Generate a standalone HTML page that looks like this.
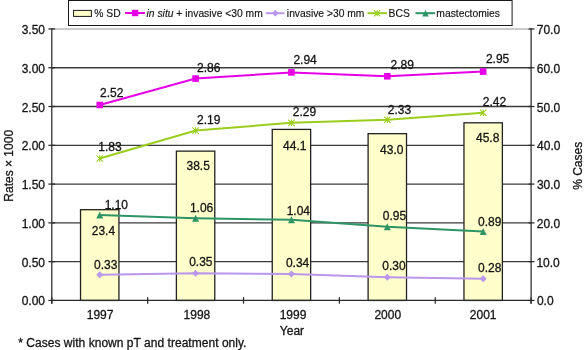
<!DOCTYPE html>
<html><head><meta charset="utf-8"><style>
html,body{margin:0;padding:0;background:#fff;width:584px;height:350px;overflow:hidden}
svg{display:block;will-change:transform}
text{font-family:"Liberation Sans",sans-serif;stroke:#1a1a1a;stroke-width:0.3px}
</style></head><body>
<svg width="584" height="350" viewBox="0 0 584 350">
<rect width="584" height="350" fill="#fff"/>
<line x1="51.8" y1="261.66" x2="531.1" y2="261.66" stroke="#3a3a3a" stroke-width="1.3"/>
<line x1="51.8" y1="222.88" x2="531.1" y2="222.88" stroke="#3a3a3a" stroke-width="1.3"/>
<line x1="51.8" y1="184.09" x2="531.1" y2="184.09" stroke="#3a3a3a" stroke-width="1.3"/>
<line x1="51.8" y1="145.31" x2="531.1" y2="145.31" stroke="#3a3a3a" stroke-width="1.3"/>
<line x1="51.8" y1="106.52" x2="531.1" y2="106.52" stroke="#3a3a3a" stroke-width="1.3"/>
<line x1="51.8" y1="67.74" x2="531.1" y2="67.74" stroke="#3a3a3a" stroke-width="1.3"/>
<line x1="51.8" y1="28.95" x2="531.1" y2="28.95" stroke="#bababa" stroke-width="1.5"/>
<rect x="80.53" y="209.69" width="38.4" height="90.76" fill="#FFFFCC" stroke="#222" stroke-width="1.3"/>
<rect x="176.39" y="151.12" width="38.4" height="149.33" fill="#FFFFCC" stroke="#222" stroke-width="1.3"/>
<rect x="272.25" y="129.41" width="38.4" height="171.04" fill="#FFFFCC" stroke="#222" stroke-width="1.3"/>
<rect x="368.11" y="133.67" width="38.4" height="166.78" fill="#FFFFCC" stroke="#222" stroke-width="1.3"/>
<rect x="463.97" y="122.81" width="38.4" height="177.64" fill="#FFFFCC" stroke="#222" stroke-width="1.3"/>
<line x1="51.8" y1="28.25" x2="51.8" y2="303.65" stroke="#2a2a2a" stroke-width="1.25"/>
<line x1="531.1" y1="28.25" x2="531.1" y2="303.65" stroke="#2a2a2a" stroke-width="1.25"/>
<line x1="51.8" y1="300.45" x2="531.1" y2="300.45" stroke="#2a2a2a" stroke-width="1.25"/>
<line x1="48.4" y1="300.45" x2="55.099999999999994" y2="300.45" stroke="#2a2a2a" stroke-width="1.25"/>
<line x1="528.6" y1="300.45" x2="534.5" y2="300.45" stroke="#2a2a2a" stroke-width="1.25"/>
<line x1="48.4" y1="261.66" x2="55.099999999999994" y2="261.66" stroke="#2a2a2a" stroke-width="1.25"/>
<line x1="528.6" y1="261.66" x2="534.5" y2="261.66" stroke="#2a2a2a" stroke-width="1.25"/>
<line x1="48.4" y1="222.88" x2="55.099999999999994" y2="222.88" stroke="#2a2a2a" stroke-width="1.25"/>
<line x1="528.6" y1="222.88" x2="534.5" y2="222.88" stroke="#2a2a2a" stroke-width="1.25"/>
<line x1="48.4" y1="184.09" x2="55.099999999999994" y2="184.09" stroke="#2a2a2a" stroke-width="1.25"/>
<line x1="528.6" y1="184.09" x2="534.5" y2="184.09" stroke="#2a2a2a" stroke-width="1.25"/>
<line x1="48.4" y1="145.31" x2="55.099999999999994" y2="145.31" stroke="#2a2a2a" stroke-width="1.25"/>
<line x1="528.6" y1="145.31" x2="534.5" y2="145.31" stroke="#2a2a2a" stroke-width="1.25"/>
<line x1="48.4" y1="106.52" x2="55.099999999999994" y2="106.52" stroke="#2a2a2a" stroke-width="1.25"/>
<line x1="528.6" y1="106.52" x2="534.5" y2="106.52" stroke="#2a2a2a" stroke-width="1.25"/>
<line x1="48.4" y1="67.74" x2="55.099999999999994" y2="67.74" stroke="#2a2a2a" stroke-width="1.25"/>
<line x1="528.6" y1="67.74" x2="534.5" y2="67.74" stroke="#2a2a2a" stroke-width="1.25"/>
<line x1="48.4" y1="28.95" x2="55.099999999999994" y2="28.95" stroke="#2a2a2a" stroke-width="1.25"/>
<line x1="528.6" y1="28.95" x2="534.5" y2="28.95" stroke="#2a2a2a" stroke-width="1.25"/>
<line x1="51.80" y1="297.15" x2="51.80" y2="303.65" stroke="#2a2a2a" stroke-width="1.25"/>
<line x1="147.66" y1="297.15" x2="147.66" y2="303.65" stroke="#2a2a2a" stroke-width="1.25"/>
<line x1="243.52" y1="297.15" x2="243.52" y2="303.65" stroke="#2a2a2a" stroke-width="1.25"/>
<line x1="339.38" y1="297.15" x2="339.38" y2="303.65" stroke="#2a2a2a" stroke-width="1.25"/>
<line x1="435.24" y1="297.15" x2="435.24" y2="303.65" stroke="#2a2a2a" stroke-width="1.25"/>
<line x1="531.10" y1="297.15" x2="531.10" y2="303.65" stroke="#2a2a2a" stroke-width="1.25"/>
<polyline points="99.73,215.12 195.59,218.22 291.45,219.78 387.31,226.76 483.17,231.41" fill="none" stroke="#2E9466" stroke-width="2"/>
<polyline points="99.73,274.85 195.59,273.30 291.45,274.08 387.31,277.18 483.17,278.73" fill="none" stroke="#BA96EC" stroke-width="2"/>
<polyline points="99.73,158.49 195.59,130.57 291.45,122.81 387.31,119.71 483.17,112.73" fill="none" stroke="#9ACD1E" stroke-width="2"/>
<polyline points="99.73,104.97 195.59,78.60 291.45,72.39 387.31,76.27 483.17,71.61" fill="none" stroke="#E600E6" stroke-width="2"/>
<path d="M99.73,211.62L103.23,218.62L96.23,218.62Z" fill="#2E9466"/>
<path d="M96.23,274.85L99.73,271.35L103.23,274.85L99.73,278.35Z" fill="#BA96EC"/>
<path d="M96.53,155.29L102.93,161.69M102.93,155.29L96.53,161.69M99.73,155.29L99.73,161.69" stroke="#9ACD1E" stroke-width="1.05" fill="none"/>
<rect x="96.43" y="101.67" width="6.6" height="6.6" fill="#E600E6"/>
<path d="M195.59,214.72L199.09,221.72L192.09,221.72Z" fill="#2E9466"/>
<path d="M192.09,273.30L195.59,269.80L199.09,273.30L195.59,276.80Z" fill="#BA96EC"/>
<path d="M192.39,127.37L198.79,133.77M198.79,127.37L192.39,133.77M195.59,127.37L195.59,133.77" stroke="#9ACD1E" stroke-width="1.05" fill="none"/>
<rect x="192.29" y="75.30" width="6.6" height="6.6" fill="#E600E6"/>
<path d="M291.45,216.28L294.95,223.28L287.95,223.28Z" fill="#2E9466"/>
<path d="M287.95,274.08L291.45,270.58L294.95,274.08L291.45,277.58Z" fill="#BA96EC"/>
<path d="M288.25,119.61L294.65,126.01M294.65,119.61L288.25,126.01M291.45,119.61L291.45,126.01" stroke="#9ACD1E" stroke-width="1.05" fill="none"/>
<rect x="288.15" y="69.09" width="6.6" height="6.6" fill="#E600E6"/>
<path d="M387.31,223.26L390.81,230.26L383.81,230.26Z" fill="#2E9466"/>
<path d="M383.81,277.18L387.31,273.68L390.81,277.18L387.31,280.68Z" fill="#BA96EC"/>
<path d="M384.11,116.51L390.51,122.91M390.51,116.51L384.11,122.91M387.31,116.51L387.31,122.91" stroke="#9ACD1E" stroke-width="1.05" fill="none"/>
<rect x="384.01" y="72.97" width="6.6" height="6.6" fill="#E600E6"/>
<path d="M483.17,227.91L486.67,234.91L479.67,234.91Z" fill="#2E9466"/>
<path d="M479.67,278.73L483.17,275.23L486.67,278.73L483.17,282.23Z" fill="#BA96EC"/>
<path d="M479.97,109.53L486.37,115.93M486.37,109.53L479.97,115.93M483.17,109.53L483.17,115.93" stroke="#9ACD1E" stroke-width="1.05" fill="none"/>
<rect x="479.87" y="68.31" width="6.6" height="6.6" fill="#E600E6"/>
<text x="100.05" y="96.80" font-size="12" fill="#111" >2.52</text>
<text x="197.05" y="72.40" font-size="12" fill="#111" >2.86</text>
<text x="293.45" y="63.80" font-size="12" fill="#111" >2.94</text>
<text x="390.55" y="69.20" font-size="12" fill="#111" >2.89</text>
<text x="485.95" y="63.10" font-size="12" fill="#111" >2.95</text>
<text x="98.34" y="151.10" font-size="12" fill="#111" >1.83</text>
<text x="197.05" y="123.80" font-size="12" fill="#111" >2.19</text>
<text x="292.75" y="116.10" font-size="12" fill="#111" >2.29</text>
<text x="387.75" y="114.00" font-size="12" fill="#111" >2.33</text>
<text x="482.75" y="106.00" font-size="12" fill="#111" >2.42</text>
<text x="91.75" y="235.40" font-size="12" fill="#111" >23.4</text>
<text x="186.49" y="170.20" font-size="12" fill="#111" >38.5</text>
<text x="283.07" y="149.50" font-size="12" fill="#111" >44.1</text>
<text x="380.07" y="153.60" font-size="12" fill="#111" >43.0</text>
<text x="475.97" y="142.00" font-size="12" fill="#111" >45.8</text>
<text x="104.64" y="208.80" font-size="12" fill="#111" >1.10</text>
<text x="189.94" y="211.80" font-size="12" fill="#111" >1.06</text>
<text x="286.64" y="215.10" font-size="12" fill="#111" >1.04</text>
<text x="382.78" y="219.80" font-size="12" fill="#111" >0.95</text>
<text x="477.98" y="225.50" font-size="12" fill="#111" >0.89</text>
<text x="94.08" y="268.80" font-size="12" fill="#111" >0.33</text>
<text x="189.18" y="266.10" font-size="12" fill="#111" >0.35</text>
<text x="285.88" y="267.40" font-size="12" fill="#111" >0.34</text>
<text x="382.28" y="269.80" font-size="12" fill="#111" >0.30</text>
<text x="477.98" y="271.80" font-size="12" fill="#111" >0.28</text>
<text x="45.02" y="305.45" font-size="12" fill="#111" text-anchor="end">0.00</text>
<text x="536.88" y="305.45" font-size="12" fill="#111" >0.0</text>
<text x="45.02" y="266.66" font-size="12" fill="#111" text-anchor="end">0.50</text>
<text x="536.44" y="266.66" font-size="12" fill="#111" >10.0</text>
<text x="45.02" y="227.88" font-size="12" fill="#111" text-anchor="end">1.00</text>
<text x="536.75" y="227.88" font-size="12" fill="#111" >20.0</text>
<text x="45.02" y="189.09" font-size="12" fill="#111" text-anchor="end">1.50</text>
<text x="536.89" y="189.09" font-size="12" fill="#111" >30.0</text>
<text x="45.02" y="150.31" font-size="12" fill="#111" text-anchor="end">2.00</text>
<text x="537.07" y="150.31" font-size="12" fill="#111" >40.0</text>
<text x="45.02" y="111.52" font-size="12" fill="#111" text-anchor="end">2.50</text>
<text x="536.87" y="111.52" font-size="12" fill="#111" >50.0</text>
<text x="45.02" y="72.74" font-size="12" fill="#111" text-anchor="end">3.00</text>
<text x="536.74" y="72.74" font-size="12" fill="#111" >60.0</text>
<text x="45.02" y="33.95" font-size="12" fill="#111" text-anchor="end">3.50</text>
<text x="536.73" y="33.95" font-size="12" fill="#111" >70.0</text>
<text x="100.07" y="318.70" font-size="12" fill="#111" text-anchor="middle">1997</text>
<text x="196.89" y="318.70" font-size="12" fill="#111" text-anchor="middle">1998</text>
<text x="292.98" y="318.70" font-size="12" fill="#111" text-anchor="middle">1999</text>
<text x="387.74" y="318.70" font-size="12" fill="#111" text-anchor="middle">2000</text>
<text x="483.16" y="318.70" font-size="12" fill="#111" text-anchor="middle">2001</text>
<text x="291.97" y="335.00" font-size="12" fill="#111" text-anchor="middle">Year</text>
<text x="18.26" y="347.20" font-size="12" fill="#111" letter-spacing="0.03">* Cases with known pT and treatment only.</text>
<text transform="translate(12.6,165.8) rotate(-90)" font-size="12" fill="#111" text-anchor="middle">Rates × 1000</text>
<text transform="translate(582.3,165.8) rotate(-90)" font-size="12" fill="#111" text-anchor="middle">% Cases</text>
<rect x="68.5" y="0.5" width="443.6" height="25" fill="#fff" stroke="#1a1a1a" stroke-width="1"/>
<rect x="73.6" y="10.4" width="17.8" height="6" fill="#FFFFCC" stroke="#1a1a1a" stroke-width="1"/>
<text x="94.28" y="16.7" font-size="10.3" fill="#111" style="stroke-width:0.15px" >% SD</text>
<line x1="125.1" y1="13" x2="145" y2="13" stroke="#E600E6" stroke-width="2"/>
<text x="146.58" y="16.7" font-size="10.3" fill="#111" style="stroke-width:0.15px"><tspan font-style="italic">in situ</tspan> + invasive &lt;30 mm</text>
<line x1="265.8" y1="13.2" x2="284.5" y2="13.2" stroke="#BA96EC" stroke-width="2"/>
<text x="286.86" y="16.7" font-size="10.3" fill="#111" style="stroke-width:0.15px" >invasive &gt;30 mm</text>
<line x1="367.5" y1="13.2" x2="387" y2="13.2" stroke="#9ACD1E" stroke-width="2"/>
<text x="388.61" y="16.7" font-size="10.3" fill="#111" style="stroke-width:0.15px" >BCS</text>
<line x1="415.5" y1="13.2" x2="435.1" y2="13.2" stroke="#2E9466" stroke-width="2"/>
<text x="436.37" y="16.7" font-size="10.3" fill="#111" style="stroke-width:0.15px" >mastectomies</text>
<rect x="131.90" y="9.80" width="6.4" height="6.4" fill="#E600E6"/>
<path d="M271.90,13.20L275.30,9.80L278.70,13.20L275.30,16.60Z" fill="#BA96EC"/>
<path d="M374.00,10.10L380.20,16.30M380.20,10.10L374.00,16.30M377.10,10.10L377.10,16.30" stroke="#9ACD1E" stroke-width="1.05" fill="none"/>
<path d="M425.50,9.90L428.80,16.50L422.20,16.50Z" fill="#2E9466"/>
</svg>
</body></html>
